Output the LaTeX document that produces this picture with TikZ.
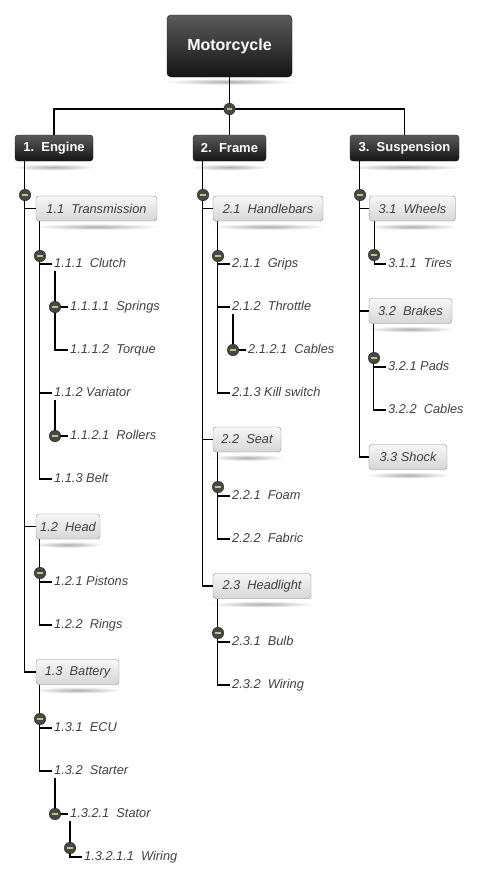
\documentclass[tikz,border=0pt]{standalone}
\usepackage{fontspec}
\setmainfont{Liberation Sans}
\usetikzlibrary{calc}

\definecolor{boxtop}{HTML}{5A5A5A}
\definecolor{boxbot}{HTML}{141414}
\definecolor{subtop}{HTML}{F7F7F7}
\definecolor{subbot}{HTML}{D6D6D6}
\definecolor{subedge}{HTML}{8A8A8A}
\definecolor{itemtxt}{HTML}{404040}
\definecolor{knob}{HTML}{474747}
\definecolor{minus}{HTML}{B4CC7A}

\tikzset{
  rootbox/.style={draw=black!90, rounded corners=4pt, top color=boxtop, bottom color=boxbot,
    text=white, font=\bfseries\fontsize{16}{18}\selectfont, minimum width=125, minimum height=62},
  topbox/.style={draw=black!90, rounded corners=3pt, top color=boxtop, bottom color=boxbot,
    text=white, font=\bfseries\fontsize{13}{15}\selectfont, minimum height=26, inner sep=0pt},
  subbox/.style={draw=subedge, rounded corners=3pt, top color=subtop, bottom color=subbot,
    text=itemtxt, font=\itshape\fontsize{12.8}{15}\selectfont, minimum height=25, inner sep=0pt},
  leaf/.style={anchor=west, inner xsep=2pt, inner ysep=1pt, text=itemtxt,
    text height=9.5pt, text depth=2.5pt, font=\itshape\fontsize{12.8}{15}\selectfont},
  link/.style={line width=1.1pt, black},
  toggle/.style={circle, draw=black!85, fill=knob, minimum size=11.5pt, inner sep=0pt,
    path picture={\draw[minus, line width=1.3pt]
      ([xshift=-2.6pt]path picture bounding box.center) -- ([xshift=2.6pt]path picture bounding box.center);}}
}

\begin{document}
\begin{tikzpicture}[x=1pt, y=-1pt]
    \useasboundingbox (0,0) rectangle (483,881);

    % Root
    \node[rootbox] (root) at (229.5,46) {Motorcycle};

    % First level
    \node[topbox, minimum width=78] (engine) at (54,148) {1.\ \ Engine};
    \node[topbox, minimum width=73] (frame) at (229.5,148) {2.\ \ Frame};
    \node[topbox, minimum width=109] (suspension) at (404.5,148) {3.\ \ Suspension};

    % Engine
    \node[subbox, minimum width=121] (transmission) at (96.5,208.5) {1.1\ \ Transmission};
    \node[leaf] (clutch) at (52,264) {1.1.1\ \ Clutch};
    \node[leaf] (springs) at (68,307) {1.1.1.1\ \ Springs};
    \node[leaf] (torque) at (68,350) {1.1.1.2\ \ Torque};
    \node[leaf] (variator) at (52,393) {1.1.2 Variator};
    \node[leaf] (rollers) at (68,436) {1.1.2.1\ \ Rollers};
    \node[leaf] (belt) at (52,479) {1.1.3 Belt};
    \node[subbox, minimum width=64] (head) at (68,526.5) {1.2\ \ Head};
    \node[leaf] (pistons) at (52,582) {1.2.1 Pistons};
    \node[leaf] (rings) at (52,625) {1.2.2\ \ Rings};
    \node[subbox, minimum width=83] (battery) at (77.5,672) {1.3\ \ Battery};
    \node[leaf] (ecu) at (52,728) {1.3.1\ \ ECU};
    \node[leaf] (starter) at (52,771) {1.3.2\ \ Starter};
    \node[leaf] (stator) at (68,814) {1.3.2.1\ \ Stator};
    \node[leaf] (statorwiring) at (82,857) {1.3.2.1.1\ \ Wiring};

    % Frame
    \node[subbox, minimum width=110] (handlebars) at (268,208.5) {2.1\ \ Handlebars};
    \node[leaf] (grips) at (230,264) {2.1.1\ \ Grips};
    \node[leaf] (throttle) at (230,307) {2.1.2\ \ Throttle};
    \node[leaf] (throttlecables) at (246,350) {2.1.2.1\ \ Cables};
    \node[leaf] (killswitch) at (230,393) {2.1.3 Kill switch};
    \node[subbox, minimum width=68] (seat) at (247,439.5) {2.2\ \ Seat};
    \node[leaf] (foam) at (230,496) {2.2.1\ \ Foam};
    \node[leaf] (fabric) at (230,539) {2.2.2\ \ Fabric};
    \node[subbox, minimum width=98] (headlight) at (262,586) {2.3\ \ Headlight};
    \node[leaf] (bulb) at (230,642) {2.3.1\ \ Bulb};
    \node[leaf] (lightwiring) at (230,685) {2.3.2\ \ Wiring};

    % Suspension
    \node[subbox, minimum width=86] (wheels) at (412.5,208.5) {3.1\ \ Wheels};
    \node[leaf] (tires) at (386,264) {3.1.1\ \ Tires};
    \node[subbox, minimum width=83] (brakes) at (410.5,311) {3.2\ \ Brakes};
    \node[leaf] (pads) at (386,367) {3.2.1 Pads};
    \node[leaf] (brakecables) at (386,410) {3.2.2\ \ Cables};
    \node[subbox, minimum width=78] (shock) at (408,457) {3.3 Shock};

    % Shadows under the boxes
    \foreach \b/\d in {root/4.5,engine/6,frame/6,suspension/6,transmission/5.5,head/5.5,battery/5.5,
                       handlebars/5.5,seat/5.5,headlight/5.5,wheels/5.5,brakes/5.5,shock/5.5}
      \shade[inner color=black!32, outer color=white]
        let \p1=(\b.south west), \p2=(\b.south east) in
        ($(\b.south)+(0,\d)$) ellipse ({(\x2-\x1)/2+3pt} and 3.2pt);

    % Root to first level
    \coordinate (hub) at (229.5,109);
    \draw[link] (root.south) -- (hub);
    \draw[link] (engine.north) |- (hub) -| (suspension.north);
    \draw[link] (hub) -- (frame.north);

    % Engine links
    \foreach \c in {transmission,head,battery}
      \draw[link] ([xshift=10pt]engine.south west) |- (\c.west);
    \foreach \c in {clutch,variator,belt}
      \draw[link] ([xshift=4pt]transmission.south west) |- (\c.west);
    \foreach \c in {springs,torque}
      \draw[link] ([xshift=3pt]clutch.south west) |- (\c.west);
    \draw[link] ([xshift=3pt]variator.south west) |- (rollers.west);
    \foreach \c in {pistons,rings}
      \draw[link] ([xshift=4pt]head.south west) |- (\c.west);
    \foreach \c in {ecu,starter}
      \draw[link] ([xshift=4pt]battery.south west) |- (\c.west);
    \draw[link] ([xshift=3pt]starter.south west) |- (stator.west);
    \draw[link] ([xshift=2pt]stator.south west) |- (statorwiring.west);

    % Frame links
    \foreach \c in {handlebars,seat,headlight}
      \draw[link] ([xshift=10pt]frame.south west) |- (\c.west);
    \foreach \c in {grips,throttle,killswitch}
      \draw[link] ([xshift=5pt]handlebars.south west) |- (\c.west);
    \draw[link] ([xshift=3pt]throttle.south west) |- (throttlecables.west);
    \foreach \c in {foam,fabric}
      \draw[link] ([xshift=5pt]seat.south west) |- (\c.west);
    \foreach \c in {bulb,lightwiring}
      \draw[link] ([xshift=5pt]headlight.south west) |- (\c.west);

    % Suspension links
    \foreach \c in {wheels,brakes,shock}
      \draw[link] ([xshift=10pt]suspension.south west) |- (\c.west);
    \draw[link] ([xshift=5pt]wheels.south west) |- (tires.west);
    \foreach \c in {pads,brakecables}
      \draw[link] ([xshift=5pt]brakes.south west) |- (\c.west);

    % Collapse knobs
    \foreach \n/\p in {hub/{(229.5,109)}, engine/{(25,195)}, frame/{(203,195)}, suspension/{(360,195)},
                       transmission/{(40,256)}, clutch/{(55,307)}, variator/{(55,436)},
                       head/{(40,573)}, battery/{(40,719)}, starter/{(55,814)}, stator/{(70,848)},
                       handlebars/{(218,256)}, throttle/{(233,350)}, seat/{(218,487)}, headlight/{(218,633)},
                       wheels/{(374,255)}, brakes/{(374,358)}}
      \node[toggle] (knob-\n) at \p {};
\end{tikzpicture}
\end{document}
